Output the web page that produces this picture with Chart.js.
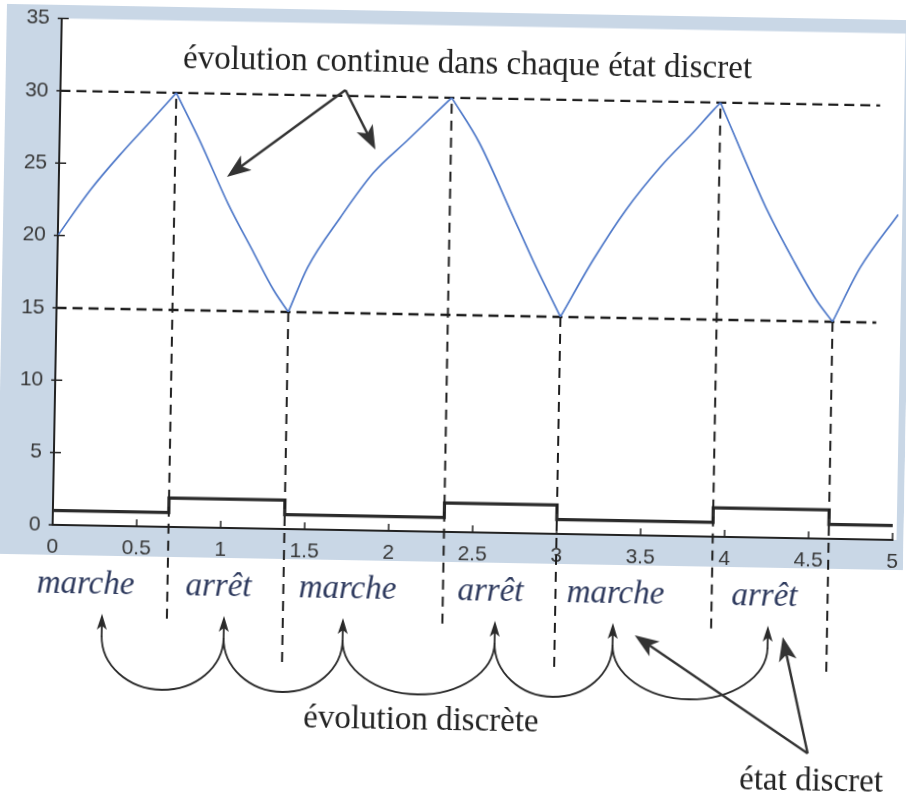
<!DOCTYPE html>
<html>
<head>
<meta charset="utf-8">
<script src="https://cdn.jsdelivr.net/npm/chart.js@4.4.0/dist/chart.umd.min.js"></script>
<style>
html, body { margin: 0; padding: 0; background: #fff; overflow: hidden; }
#wrap { width: 906px; height: 793px; }
/* the scanned figure is slightly tilted */
canvas { transform: rotate(1.03deg); transform-origin: 453px 396.5px; }
</style>
</head>
<body>
<div id="wrap"><canvas id="c" width="906" height="793"></canvas></div>
<script>
// continuous evolution (temperature)
var tempT = [0, 0.19, 0.38, 0.54, 0.69, 0.84, 1.01, 1.17, 1.29, 1.38, 1.49, 1.68, 1.87, 2.07, 2.26, 2.33,
             2.50, 2.69, 2.85, 3.0, 3.19, 3.38, 3.58, 3.77, 3.89, 3.93, 4.08, 4.22, 4.38, 4.52, 4.62, 4.78, 5.0];
var tempV = [20, 23.2, 25.9, 28.0, 30, 26.6, 22.4, 19.0, 16.5, 15, 18.1, 21.6, 24.7, 27.0, 29.2, 30,
             26.9, 22.3, 18.4, 15, 19.0, 22.5, 25.5, 27.9, 29.5, 30, 26.1, 22.6, 19.2, 16.5, 15, 18.8, 22.5];
// discrete state: switching times and level from each switch on
var switchT = [0, 0.69, 1.38, 2.33, 3.0, 3.93, 4.62, 5];
var stateV = [1, 2, 1, 2, 1, 2, 1, 1];
var stateNames = ['marche', 'arrêt', 'marche', 'arrêt', 'marche', 'arrêt'];
// thresholds
var seuilHaut = 30, seuilBas = 15, seuilFin = 4.88;
// lower end of the dashed verticals (they run below the axis)
var vertBas = [-6.4, -9.4, -6.4, -9.4, -6.4, -9.4];
var xTicks = [0, 0.5, 1, 1.5, 2, 2.5, 3, 3.5, 4, 4.5, 5];
var yTicks = [0, 5, 10, 15, 20, 25, 30, 35];

var serif = '"Liberation Serif", "Times New Roman", serif';
var ink = '#2a2a2a';

function arrow(ctx, x1, y1, x2, y2, len, w) {
    var ang = Math.atan2(y2 - y1, x2 - x1);
    ctx.beginPath();
    ctx.moveTo(x1, y1);
    ctx.lineTo(x2 - Math.cos(ang) * len * 0.7, y2 - Math.sin(ang) * len * 0.7);
    ctx.stroke();
    ctx.save();
    ctx.translate(x2, y2);
    ctx.rotate(ang);
    ctx.beginPath();
    ctx.moveTo(0, 0);
    ctx.lineTo(-len, -w / 2);
    ctx.lineTo(-len * 0.75, 0);
    ctx.lineTo(-len, w / 2);
    ctx.closePath();
    ctx.fill();
    ctx.restore();
}

// one dataset per continuous phase, so the corners at the switches stay sharp
var phases = [];
for (var p = 0; p < switchT.length - 1; p++) {
    var pts = [];
    tempT.forEach(function(t, i) {
        if (t >= switchT[p] && t <= switchT[p + 1]) pts.push({ x: t, y: tempV[i] });
    });
    phases.push({ data: pts, borderColor: '#4f79c9', borderWidth: 1.7, pointRadius: 0,
                  cubicInterpolationMode: 'monotone' });
}

var annot = {
    id: 'annot',
    beforeDraw: function(chart) {
        var ctx = chart.ctx, a = chart.chartArea;
        ctx.save();
        ctx.fillStyle = '#c9d7e6';
        ctx.fillRect(0, 12, chart.width, 550);
        ctx.fillStyle = '#fff';
        ctx.fillRect(a.left, a.top, a.right - a.left + 4, a.bottom - a.top);
        ctx.restore();
    },
    afterDraw: function(chart) {
        var ctx = chart.ctx, a = chart.chartArea;
        var xs = chart.scales.x, ys = chart.scales.y;
        ctx.save();
        // inward ticks
        ctx.strokeStyle = '#222';
        ctx.lineWidth = 1.5;
        xTicks.forEach(function(v) {
            var px = xs.getPixelForValue(v);
            ctx.beginPath(); ctx.moveTo(px, a.bottom); ctx.lineTo(px, a.bottom - 7); ctx.stroke();
        });
        yTicks.forEach(function(v) {
            var py = ys.getPixelForValue(v);
            ctx.beginPath(); ctx.moveTo(a.left - 4, py); ctx.lineTo(a.left + 7, py); ctx.stroke();
        });
        // dashed verticals at each switch
        ctx.setLineDash([10, 7]);
        ctx.lineWidth = 2;
        ctx.strokeStyle = '#1e1e1e';
        for (var i = 1; i < switchT.length - 1; i++) {
            var px = xs.getPixelForValue(switchT[i]);
            var top = (i % 2 === 1) ? seuilHaut - 0.4 : seuilBas;
            ctx.beginPath();
            ctx.moveTo(px, ys.getPixelForValue(top));
            ctx.lineTo(px, ys.getPixelForValue(vertBas[i - 1]));
            ctx.stroke();
        }
        ctx.setLineDash([]);

        // top annotation
        ctx.fillStyle = '#222';
        ctx.font = '33px ' + serif;
        ctx.textAlign = 'left';
        ctx.textBaseline = 'alphabetic';
        ctx.fillText('évolution continue dans chaque état discret', 177, 73);
        ctx.strokeStyle = '#333';
        ctx.fillStyle = '#333';
        ctx.lineWidth = 2.4;
        arrow(ctx, 340, 92, 223, 181, 24, 18);
        arrow(ctx, 340, 92, 371, 151, 24, 18);

        // state names
        ctx.fillStyle = '#2e3a5e';
        ctx.font = 'italic 33px ' + serif;
        ctx.textAlign = 'center';
        var labelX = [89, 222, 351, 494, 619, 768];
        stateNames.forEach(function(s, k) { ctx.fillText(s, labelX[k], 600); });

        // discrete evolution: chained arcs with arrows
        var tipX = [106, 228, 347, 499, 617, 772];
        ctx.strokeStyle = ink;
        ctx.fillStyle = ink;
        ctx.lineWidth = 1.8;
        for (var k = 0; k < tipX.length - 1; k++) {
            var cx = (tipX[k] + tipX[k + 1]) / 2, rx = (tipX[k + 1] - tipX[k]) / 2;
            ctx.beginPath();
            ctx.ellipse(cx, 642, rx, 53, 0, 0, Math.PI);
            ctx.stroke();
        }
        tipX.forEach(function(x) { arrow(ctx, x, 643, x, 620, 16, 10); });

        ctx.fillStyle = '#222';
        ctx.font = '33px ' + serif;
        ctx.textAlign = 'left';
        ctx.fillText('évolution discrète', 309, 730);
        ctx.fillText('état discret', 746, 784);
        ctx.strokeStyle = '#333';
        ctx.fillStyle = '#333';
        ctx.lineWidth = 2.4;
        arrow(ctx, 814, 747, 639, 632, 24, 18);
        arrow(ctx, 814, 747, 787, 631, 24, 18);
        ctx.restore();
    }
};

var tickFont = { family: '"Liberation Sans", Arial, sans-serif', size: 21 };

new Chart(document.getElementById('c').getContext('2d'), {
    type: 'line',
    data: {
        datasets: phases.concat([
            { data: switchT.map(function(t, i) { return { x: t, y: stateV[i] }; }),
              stepped: 'before', borderColor: '#2b2b2b', borderWidth: 3.2, pointRadius: 0 },
            { data: [{ x: 0, y: seuilHaut }, { x: seuilFin, y: seuilHaut }],
              borderColor: '#1e1e1e', borderWidth: 2.4, borderDash: [10, 6], pointRadius: 0 },
            { data: [{ x: 0, y: seuilBas }, { x: seuilFin, y: seuilBas }],
              borderColor: '#1e1e1e', borderWidth: 2.4, borderDash: [10, 6], pointRadius: 0 }
        ])
    },
    options: {
        responsive: false,
        animation: false,
        layout: { padding: { top: 25.5, right: 11, left: 0, bottom: 0 } },
        plugins: { legend: { display: false }, tooltip: { enabled: false } },
        scales: {
            x: {
                type: 'linear', min: 0, max: 5,
                afterBuildTicks: function(s) { s.ticks = xTicks.map(function(v) { return { value: v }; }); },
                afterFit: function(s) { s.height = 261; },
                grid: { display: false },
                border: { display: true, color: '#222', width: 2 },
                ticks: { autoSkip: false, maxRotation: 0, padding: 2, color: '#383838', font: tickFont,
                         callback: function(v) { return String(v); } }
            },
            y: {
                type: 'linear', min: 0, max: 35,
                afterBuildTicks: function(s) { s.ticks = yTicks.map(function(v) { return { value: v }; }); },
                afterFit: function(s) { s.width = 55; },
                grid: { display: false },
                border: { display: true, color: '#222', width: 2 },
                ticks: { padding: 4, color: '#383838', font: tickFont }
            }
        }
    },
    plugins: [annot]
});
</script>
</body>
</html>
